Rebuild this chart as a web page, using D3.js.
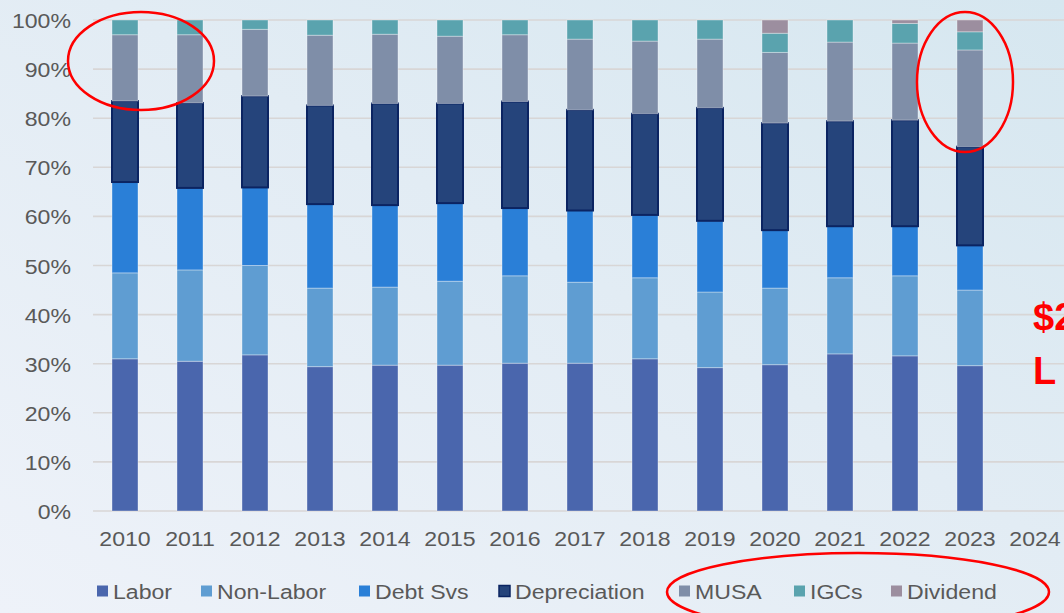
<!DOCTYPE html>
<html lang="en">
<head>
<meta charset="UTF-8">
<title>Cost Breakdown 2010-2024</title>
<script src="https://d3js.org/d3.v7.min.js"></script>
<style>
    body { margin: 0; overflow: hidden; font-family: Arial, "Liberation Sans", sans-serif; }
    svg { display: block; }
    .tick text { fill: #595959; font-size: 21px; }
    .legend-label { fill: #595959; font-size: 21px; }
</style>
</head>
<body>
<svg id="chart" width="1064" height="613"></svg>
<script>
    // data (share of total, %)
    const years = ["2010","2011","2012","2013","2014","2015","2016","2017","2018","2019","2020","2021","2022","2023","2024"];
    const seriesNames = ["Labor","Non-Labor","Debt Svs","Depreciation","MUSA","IGCs","Dividend"];
    const labor        = [31.0, 30.5, 31.8, 29.4, 29.7, 29.7, 30.1, 30.1, 31.0, 29.2, 29.8, 32.0, 31.6, 29.6, 0];
    const nonLabor     = [17.5, 18.6, 18.2, 16.0, 15.9, 17.1, 17.8, 16.5, 16.5, 15.4, 15.6, 15.5, 16.3, 15.4, 0];
    const debtSvs      = [18.5, 16.7, 15.9, 17.1, 16.7, 15.9, 13.8, 14.6, 12.8, 14.5, 11.8, 10.5, 10.1,  9.1, 0];
    const depreciation = [16.5, 17.3, 18.6, 20.1, 20.7, 20.3, 21.7, 20.5, 20.6, 23.0, 21.8, 21.4, 21.6, 20.1, 0];
    const musa         = [13.5, 13.9, 13.6, 14.3, 14.1, 13.7, 13.6, 14.4, 14.8, 14.0, 14.4, 16.1, 15.7, 19.7, 0];
    const igcs         = [ 3.0,  3.0,  1.9,  3.1,  2.9,  3.3,  3.0,  3.9,  4.3,  3.9,  3.9,  4.5,  4.0,  3.7, 0];
    const dividend     = [ 0,    0,    0,    0,    0,    0,    0,    0,    0,    0,    2.7,  0,    0.7,  2.4, 0];
    const yTicks = [0, 10, 20, 30, 40, 50, 60, 70, 80, 90, 100];

    const colors = ["#4a66ad", "#5f9dd2", "#2a7fd7", "#25447b", "#7f8ea8", "#5aa3ae", "#9c8e9f"];
    const legendX = [97, 201, 359, 499, 679, 794, 891];

    const svg = d3.select("#chart");
    const width = 1064, height = 613;
    const stretch = "scale(1.1,1)";   // the original text is a bit wider than plain Arial

    // background
    const defs = svg.append("defs");
    const bg = defs.append("linearGradient").attr("id", "bg")
        .attr("x1", "0%").attr("y1", "100%").attr("x2", "100%").attr("y2", "0%");
    bg.append("stop").attr("offset", "0%").attr("stop-color", "#eef2f9");
    bg.append("stop").attr("offset", "55%").attr("stop-color", "#e2ecf4");
    bg.append("stop").attr("offset", "100%").attr("stop-color", "#d6e7f0");
    svg.append("rect").attr("width", width).attr("height", height).attr("fill", "url(#bg)");

    const x = d3.scaleBand().domain(years).range([92.5, 1067.5]).paddingInner(0.6).paddingOuter(0.3);
    const y = d3.scaleLinear().domain([0, 100]).range([511, 20]);

    // gridlines
    svg.append("g")
        .selectAll("line")
        .data(yTicks)
        .join("line")
        .attr("x1", 93).attr("x2", width)
        .attr("y1", d => y(d)).attr("y2", d => y(d))
        .attr("stroke", "#d8d6d6").attr("stroke-width", 1.6);

    // y axis labels
    const yAxis = svg.append("g")
        .attr("transform", "translate(71,0)")
        .call(d3.axisLeft(y).tickValues(yTicks).tickFormat(d => d + "%").tickSize(0).tickPadding(0));
    yAxis.select(".domain").remove();
    yAxis.selectAll("text").attr("dy", "0.36em").attr("transform", stretch);

    // x axis labels
    const xAxis = svg.append("g")
        .attr("transform", "translate(0,530)")
        .call(d3.axisBottom(x).tickSize(0).tickPadding(0));
    xAxis.select(".domain").remove();
    xAxis.selectAll("text").attr("dy", "0.75em").attr("transform", stretch);

    // stacked data
    const table = years.map((yr, i) => ({
        year: yr,
        "Labor": labor[i], "Non-Labor": nonLabor[i], "Debt Svs": debtSvs[i],
        "Depreciation": depreciation[i], "MUSA": musa[i], "IGCs": igcs[i], "Dividend": dividend[i]
    }));
    const stacked = d3.stack().keys(seriesNames)(table);

    const layers = svg.append("g")
        .selectAll("g")
        .data(stacked)
        .join("g")
        .attr("fill", (d, i) => colors[i]);

    layers.each(function(layer, li) {
        d3.select(this).selectAll("rect")
            .data(layer.filter(d => d[1] - d[0] > 0))
            .join("rect")
            .attr("x", d => x(d.data.year))
            .attr("width", x.bandwidth())
            .attr("y", d => y(d[1]))
            .attr("height", d => y(d[0]) - y(d[1]))
            .attr("stroke", li === 3 ? "#0b2462" : "rgba(255,255,255,0.35)")
            .attr("stroke-width", li === 3 ? 2 : 1);
    });

    // legend
    const legend = svg.append("g").attr("transform", "translate(0,591)");
    const items = legend.selectAll("g")
        .data(seriesNames)
        .join("g")
        .attr("transform", (d, i) => `translate(${legendX[i]},0)`);
    items.append("rect")
        .attr("x", 0).attr("y", -5.5).attr("width", 11).attr("height", 11)
        .attr("fill", (d, i) => colors[i])
        .attr("stroke", (d, i) => i === 3 ? "#0b2462" : "none")
        .attr("stroke-width", 1.5);
    items.append("text")
        .attr("class", "legend-label")
        .attr("transform", "translate(16,0) " + stretch)
        .attr("dy", "0.36em")
        .text(d => d);

    // annotations
    const ann = svg.append("g").attr("fill", "none").attr("stroke", "#ff0000").attr("stroke-width", 2.5);
    ann.append("ellipse").attr("cx", 141).attr("cy", 61).attr("rx", 73).attr("ry", 49);
    ann.append("ellipse").attr("cx", 965).attr("cy", 82).attr("rx", 48).attr("ry", 70);
    ann.append("ellipse").attr("cx", 858).attr("cy", 592).attr("rx", 191).attr("ry", 39);

    svg.append("text").attr("x", 1033).attr("y", 330)
        .attr("fill", "#ff0000").attr("font-weight", "bold").attr("font-size", 38)
        .text("$2");
    svg.append("text").attr("x", 1033).attr("y", 384)
        .attr("fill", "#ff0000").attr("font-weight", "bold").attr("font-size", 38)
        .text("L");
</script>
</body>
</html>
